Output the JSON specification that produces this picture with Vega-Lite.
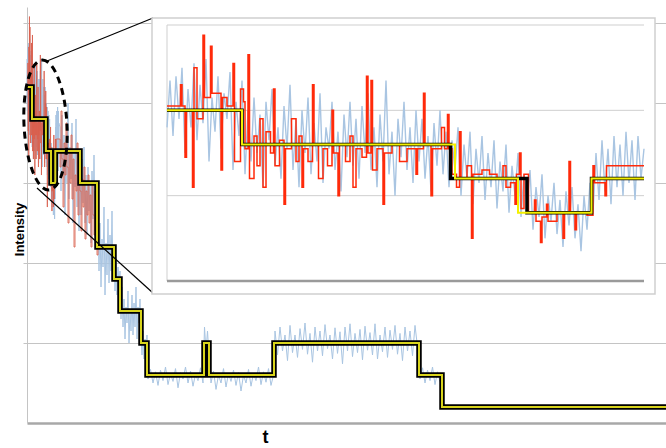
{
"$schema":"https://vega.github.io/schema/vega-lite/v6.json",
"width":639,"height":416,
"autosize":"none",
"padding":{"left":27,"top":7,"right":0,"bottom":25},
"background":"white",
"config":{"view":{"stroke":null},"font":"Liberation Sans"},
"datasets":{
"blue":[{"t":0,"v":4.0},{"t":0.2,"v":4.55},{"t":0.4,"v":3.9},{"t":0.6,"v":4.6},{"t":0.8,"v":4.1},{"t":1.0,"v":4.7},{"t":1.2,"v":3.7},{"t":1.4,"v":4.45},{"t":1.6,"v":4.0},{"t":1.8,"v":4.75},{"t":2.0,"v":3.85},{"t":2.2,"v":4.5},{"t":2.4,"v":4.05},{"t":2.6,"v":4.8},{"t":2.8,"v":3.6},{"t":3.0,"v":4.35},{"t":3.2,"v":3.95},{"t":3.4,"v":4.6},{"t":3.6,"v":3.75},{"t":3.8,"v":4.4},{"t":4.0,"v":4.1},{"t":4.2,"v":4.65},{"t":4.4,"v":3.5},{"t":4.6,"v":4.3},{"t":4.8,"v":3.9},{"t":5.0,"v":4.55},{"t":5.2,"v":3.45},{"t":5.4,"v":4.2},{"t":5.6,"v":3.6},{"t":5.8,"v":4.35},{"t":6.0,"v":3.7},{"t":6.2,"v":4.15},{"t":6.4,"v":3.3},{"t":6.6,"v":4.3},{"t":6.8,"v":3.85},{"t":7.0,"v":4.45},{"t":7.2,"v":3.55},{"t":7.4,"v":4.0},{"t":7.6,"v":3.4},{"t":7.8,"v":4.25},{"t":8.0,"v":3.75},{"t":8.2,"v":4.5},{"t":8.4,"v":3.5},{"t":8.6,"v":4.1},{"t":8.8,"v":3.3},{"t":9.0,"v":4.2},{"t":9.2,"v":3.7},{"t":9.4,"v":4.35},{"t":9.6,"v":3.45},{"t":9.8,"v":4.05},{"t":10.0,"v":3.6},{"t":10.2,"v":4.4},{"t":10.4,"v":3.35},{"t":10.6,"v":4.0},{"t":10.8,"v":3.75},{"t":11.0,"v":4.3},{"t":11.2,"v":3.5},{"t":11.4,"v":3.95},{"t":11.6,"v":3.25},{"t":11.8,"v":4.15},{"t":12.0,"v":3.65},{"t":12.2,"v":4.3},{"t":12.4,"v":3.55},{"t":12.6,"v":4.1},{"t":12.8,"v":3.4},{"t":13.0,"v":4.25},{"t":13.2,"v":3.7},{"t":13.4,"v":4.4},{"t":13.6,"v":3.5},{"t":13.8,"v":4.0},{"t":14.0,"v":3.3},{"t":14.2,"v":4.15},{"t":14.4,"v":3.6},{"t":14.6,"v":4.55},{"t":14.8,"v":3.45},{"t":15.0,"v":3.95},{"t":15.2,"v":3.2},{"t":15.4,"v":4.1},{"t":15.6,"v":3.65},{"t":15.8,"v":4.3},{"t":16.0,"v":3.5},{"t":16.2,"v":4.0},{"t":16.4,"v":3.35},{"t":16.6,"v":4.2},{"t":16.8,"v":3.6},{"t":17.0,"v":4.1},{"t":17.2,"v":3.4},{"t":17.4,"v":3.9},{"t":17.6,"v":3.25},{"t":17.8,"v":4.05},{"t":18.0,"v":3.55},{"t":18.2,"v":4.2},{"t":18.4,"v":3.45},{"t":18.6,"v":3.95},{"t":18.8,"v":3.3},{"t":19.0,"v":3.85},{"t":19.2,"v":3.5},{"t":19.4,"v":4.0},{"t":19.6,"v":3.2},{"t":19.8,"v":3.8},{"t":20.0,"v":3.4},{"t":20.2,"v":3.95},{"t":20.4,"v":3.1},{"t":20.6,"v":3.75},{"t":20.8,"v":3.35},{"t":21.0,"v":3.9},{"t":21.2,"v":3.15},{"t":21.4,"v":3.7},{"t":21.6,"v":3.3},{"t":21.8,"v":3.85},{"t":22.0,"v":3.05},{"t":22.2,"v":3.6},{"t":22.4,"v":3.25},{"t":22.6,"v":3.8},{"t":22.8,"v":3.0},{"t":23.0,"v":3.55},{"t":23.2,"v":3.2},{"t":23.4,"v":3.7},{"t":23.6,"v":2.95},{"t":23.8,"v":3.45},{"t":24.0,"v":3.1},{"t":24.2,"v":3.5},{"t":24.4,"v":2.8},{"t":24.6,"v":3.3},{"t":24.8,"v":2.95},{"t":25.0,"v":3.45},{"t":25.2,"v":2.7},{"t":25.4,"v":3.2},{"t":25.6,"v":2.9},{"t":25.8,"v":3.35},{"t":26.0,"v":2.75},{"t":26.2,"v":3.15},{"t":26.4,"v":2.6},{"t":26.6,"v":3.25},{"t":26.8,"v":2.85},{"t":27.0,"v":3.3},{"t":27.2,"v":2.7},{"t":27.4,"v":3.1},{"t":27.6,"v":2.55},{"t":27.8,"v":3.2},{"t":28.0,"v":2.8},{"t":28.2,"v":3.35},{"t":28.4,"v":3.0},{"t":28.6,"v":3.7},{"t":28.8,"v":3.15},{"t":29.0,"v":3.85},{"t":29.2,"v":3.25},{"t":29.4,"v":3.75},{"t":29.6,"v":3.1},{"t":29.8,"v":3.9},{"t":30.0,"v":3.3},{"t":30.2,"v":3.8},{"t":30.4,"v":3.2},{"t":30.6,"v":3.95},{"t":30.8,"v":3.35},{"t":31.0,"v":3.85},{"t":31.2,"v":3.15},{"t":31.4,"v":3.9},{"t":31.6,"v":3.4},{"t":31.8,"v":3.75},
{"t":33,"v":3.7},{"t":34,"v":2.9},{"t":35,"v":3.85},{"t":36,"v":3.1},{"t":37,"v":3.6},{"t":38,"v":2.6},{"t":39,"v":3.5},{"t":40,"v":3.0},{"t":41,"v":4.0},{"t":42,"v":2.8},{"t":43,"v":3.45},{"t":44,"v":3.05},{"t":45,"v":3.75},{"t":46,"v":2.5},{"t":47,"v":3.4},{"t":48,"v":2.95},{"t":49,"v":3.8},{"t":50,"v":2.7},{"t":51,"v":3.35},{"t":52,"v":2.4},{"t":53,"v":3.2},
{"t":54,"v":2.6},{"t":55,"v":3.3},{"t":56,"v":2.75},{"t":57,"v":3.45},{"t":58,"v":2.5},{"t":59,"v":3.1},{"t":60,"v":2.35},{"t":61,"v":3.2},{"t":62,"v":2.65},{"t":63,"v":3.0},{"t":64,"v":2.25},{"t":65,"v":3.15},{"t":66,"v":2.55},{"t":67,"v":3.35},{"t":68,"v":2.4},{"t":69,"v":2.95},{"t":70,"v":2.3},
{"t":71,"v":2.6},{"t":72,"v":1.9},{"t":73,"v":2.5},{"t":74,"v":1.7},{"t":75,"v":2.3},{"t":76,"v":1.95},{"t":77,"v":2.7},{"t":78,"v":1.6},{"t":79,"v":2.25},{"t":80,"v":1.85},{"t":81,"v":2.55},{"t":82,"v":1.75},{"t":83,"v":2.35},{"t":84,"v":1.9},{"t":85,"v":2.65},{"t":86,"v":1.8},{"t":87,"v":2.2},
{"t":88,"v":1.65},{"t":89,"v":2.05},{"t":90,"v":1.6},{"t":91,"v":1.95},{"t":92,"v":1.7},{"t":93,"v":1.9},
{"t":94,"v":1.3},{"t":95,"v":1.7},{"t":96,"v":1.2},{"t":97,"v":1.55},{"t":98,"v":1.05},{"t":99,"v":1.45},{"t":100,"v":1.25},{"t":101,"v":1.65},{"t":102,"v":1.0},{"t":103,"v":1.4},{"t":104,"v":1.15},{"t":105,"v":1.6},{"t":106,"v":1.1},{"t":107,"v":1.5},{"t":108,"v":1.2},{"t":109,"v":1.7},{"t":110,"v":1.05},{"t":111,"v":1.45},{"t":112,"v":1.25},{"t":113,"v":1.55},{"t":114,"v":1.1},
{"t":115,"v":0.85},{"t":116,"v":1.15},{"t":117,"v":0.8},{"t":118,"v":1.05},{"t":119,"v":0.9},{"t":120,"v":1.1},
{"t":121,"v":0.55},{"t":123.5,"v":0.67},{"t":126,"v":0.5},{"t":128.5,"v":0.64},{"t":131,"v":0.47},{"t":133.5,"v":0.66},{"t":136,"v":0.53},{"t":138.5,"v":0.7},{"t":141,"v":0.48},{"t":143.5,"v":0.62},{"t":146,"v":0.52},{"t":148.5,"v":0.68},{"t":151,"v":0.44},{"t":153.5,"v":0.63},{"t":156,"v":0.55},{"t":158.5,"v":0.7},{"t":161,"v":0.5},{"t":163.5,"v":0.65},{"t":166,"v":0.46},{"t":168.5,"v":0.61},{"t":171,"v":0.53},{"t":173.5,"v":0.69},{"t":176,"v":0.5},
{"t":177.5,"v":1.2},{"t":179,"v":0.9},{"t":180.5,"v":1.15},{"t":182,"v":0.85},
{"t":184,"v":0.5},{"t":186.5,"v":0.65},{"t":189,"v":0.42},{"t":191.5,"v":0.6},{"t":194,"v":0.5},{"t":196.5,"v":0.68},{"t":199,"v":0.45},{"t":201.5,"v":0.62},{"t":204,"v":0.52},{"t":206.5,"v":0.66},{"t":209,"v":0.47},{"t":211.5,"v":0.63},{"t":214,"v":0.4},{"t":216.5,"v":0.6},{"t":219,"v":0.5},{"t":221.5,"v":0.67},{"t":224,"v":0.46},{"t":226.5,"v":0.62},{"t":229,"v":0.53},{"t":231.5,"v":0.7},{"t":234,"v":0.48},{"t":236.5,"v":0.64},{"t":239,"v":0.51},{"t":241.5,"v":0.68},{"t":244,"v":0.47},{"t":246.5,"v":0.6},
{"t":248,"v":1.15},{"t":250.5,"v":0.85},{"t":253,"v":1.2},{"t":255.5,"v":0.9},{"t":258,"v":1.1},{"t":260.5,"v":0.78},{"t":263,"v":1.22},{"t":265.5,"v":0.88},{"t":268,"v":1.1},{"t":270.5,"v":0.82},{"t":273,"v":1.18},{"t":275.5,"v":0.92},{"t":278,"v":1.25},{"t":280.5,"v":0.86},{"t":283,"v":1.12},{"t":285.5,"v":0.76},{"t":288,"v":1.2},{"t":290.5,"v":0.9},{"t":293,"v":1.15},{"t":295.5,"v":0.84},{"t":298,"v":1.23},{"t":300.5,"v":0.93},{"t":303,"v":1.1},{"t":305.5,"v":0.8},{"t":308,"v":1.19},{"t":310.5,"v":0.87},{"t":313,"v":1.14},{"t":315.5,"v":0.74},{"t":318,"v":1.2},{"t":320.5,"v":0.9},{"t":323,"v":1.24},{"t":325.5,"v":0.83},{"t":328,"v":1.12},{"t":330.5,"v":0.88},{"t":333,"v":1.17},{"t":335.5,"v":0.79},{"t":338,"v":1.21},{"t":340.5,"v":0.91},{"t":343,"v":1.13},{"t":345.5,"v":0.85},{"t":348,"v":1.24},{"t":350.5,"v":0.8},{"t":353,"v":1.1},{"t":355.5,"v":0.89},{"t":358,"v":1.2},{"t":360.5,"v":0.82},{"t":363,"v":1.16},{"t":365.5,"v":0.92},{"t":368,"v":1.22},{"t":370.5,"v":0.86},{"t":373,"v":1.12},{"t":375.5,"v":0.78},{"t":378,"v":1.2},{"t":380.5,"v":0.9},{"t":383,"v":1.15},{"t":385.5,"v":0.84},{"t":388,"v":1.22},{"t":390.5,"v":0.95},
{"t":393,"v":0.55},{"t":395.5,"v":0.69},{"t":398,"v":0.5},{"t":400.5,"v":0.66},{"t":403,"v":0.53},{"t":405.5,"v":0.7},{"t":408,"v":0.48},{"t":410.5,"v":0.64},{"t":413,"v":0.52},{"t":415,"v":0.62}],
"red":[{"t":0,"v":4.25},{"t":0.9,"v":4.5},{"t":1.0,"v":4.25},{"t":1.2,"v":3.65},{"t":1.3,"v":4.2},{"t":1.7,"v":3.3},{"t":1.8,"v":4.7},{"t":2.0,"v":4.1},{"t":2.4,"v":5.08},{"t":2.5,"v":4.35},{"t":2.9,"v":4.95},{"t":3.0,"v":4.4},{"t":3.6,"v":3.5},{"t":3.7,"v":4.35},{"t":4.0,"v":4.25},{"t":4.4,"v":4.75},{"t":4.5,"v":3.6},{"t":4.9,"v":4.45},{"t":5.1,"v":4.3},{"t":5.2,"v":3.75},{"t":5.4,"v":4.85},{"t":5.5,"v":3.4},{"t":5.8,"v":3.9},{"t":6.0,"v":3.55},{"t":6.2,"v":4.1},{"t":6.4,"v":3.3},{"t":6.6,"v":3.95},{"t":6.9,"v":3.7},{"t":7.1,"v":4.45},{"t":7.2,"v":3.55},{"t":7.5,"v":3.85},{"t":7.8,"v":3.1},{"t":7.9,"v":3.75},{"t":8.3,"v":4.1},{"t":8.6,"v":3.6},{"t":8.8,"v":3.9},{"t":9.0,"v":3.3},{"t":9.1,"v":3.75},{"t":9.4,"v":3.6},{"t":9.7,"v":4.5},{"t":9.8,"v":3.8},{"t":10.1,"v":3.4},{"t":10.4,"v":3.75},{"t":10.7,"v":3.55},{"t":11.0,"v":4.2},{"t":11.1,"v":3.7},{"t":11.4,"v":3.2},{"t":11.5,"v":3.8},{"t":11.9,"v":3.6},{"t":12.2,"v":3.9},{"t":12.4,"v":3.3},{"t":12.6,"v":3.75},{"t":13.0,"v":3.65},{"t":13.3,"v":4.6},{"t":13.4,"v":3.7},{"t":13.6,"v":4.55},{"t":13.7,"v":3.5},{"t":14.0,"v":3.75},{"t":14.4,"v":3.1},{"t":14.5,"v":3.7},{"t":15.0,"v":3.8},{"t":15.5,"v":3.6},{"t":16.0,"v":3.75},{"t":16.6,"v":3.45},{"t":16.7,"v":3.75},{"t":17.1,"v":4.4},{"t":17.2,"v":3.8},{"t":17.6,"v":3.2},{"t":17.7,"v":3.75},{"t":18.3,"v":4.0},{"t":18.5,"v":3.75},{"t":18.7,"v":4.15},{"t":18.8,"v":3.75},{"t":19.0,"v":3.45},{"t":19.3,"v":3.3},{"t":19.5,"v":3.95},{"t":19.6,"v":3.4},{"t":20.0,"v":3.55},{"t":20.3,"v":2.7},{"t":20.4,"v":3.45},{"t":21.0,"v":3.5},{"t":21.5,"v":3.45},{"t":22.0,"v":3.4},{"t":22.4,"v":3.55},{"t":22.6,"v":3.3},{"t":22.9,"v":3.35},{"t":23.2,"v":3.1},{"t":23.3,"v":3.45},{"t":23.5,"v":3.7},{"t":23.6,"v":3.05},{"t":23.8,"v":3.45},{"t":24.1,"v":3.0},{"t":24.5,"v":3.15},{"t":24.6,"v":2.9},{"t":24.9,"v":2.65},{"t":25.0,"v":2.95},{"t":25.3,"v":3.1},{"t":25.4,"v":2.9},{"t":26.0,"v":3.0},{"t":26.4,"v":2.7},{"t":26.5,"v":3.0},{"t":26.8,"v":3.6},{"t":26.9,"v":3.0},{"t":27.2,"v":2.8},{"t":27.3,"v":3.0},{"t":28.0,"v":2.97},{"t":28.4,"v":3.55},{"t":28.5,"v":3.35},{"t":29.2,"v":3.2},{"t":29.3,"v":3.55},{"t":31.8,"v":3.55},
{"t":32,"v":3.55},{"t":33,"v":3.2},{"t":34,"v":3.9},{"t":35,"v":3.3},{"t":36,"v":2.7},{"t":37,"v":3.5},{"t":38,"v":3.1},{"t":39,"v":3.75},{"t":40,"v":3.2},{"t":41,"v":2.5},{"t":42,"v":3.4},{"t":43,"v":3.0},{"t":44,"v":3.6},{"t":45,"v":2.8},{"t":46,"v":3.3},{"t":47,"v":2.2},{"t":48,"v":3.1},{"t":49,"v":2.9},{"t":50,"v":3.5},{"t":51,"v":2.6},{"t":52,"v":3.2},{"t":53,"v":2.9},{"t":54,"v":2.4},{"t":55,"v":3.05},{"t":56,"v":2.7},{"t":57,"v":3.2},{"t":58,"v":2.3},{"t":59,"v":2.9},{"t":60,"v":2.6},{"t":61,"v":3.1},{"t":62,"v":2.5},{"t":63,"v":2.85},{"t":64,"v":2.2},{"t":65,"v":3.0},{"t":66,"v":2.6},{"t":67,"v":2.35},{"t":68,"v":2.9},{"t":69,"v":2.4},{"t":70,"v":2.1},{"t":71,"v":2.5}],
"step":[{"t":0,"v":4.2},{"t":5,"v":3.8},{"t":18.9,"v":3.4},{"t":24,"v":3.0},{"t":28.3,"v":3.4},{"t":53,"v":3.0},{"t":70,"v":2.2},{"t":87,"v":1.8},{"t":93,"v":1.4},{"t":114,"v":1.0},{"t":120,"v":0.6},{"t":177,"v":1.0},{"t":182,"v":0.6},{"t":247,"v":1.0},{"t":392,"v":0.6},{"t":415,"v":0.2},{"t":645,"v":0.2}]
},
"layer":[
{"layer":[
{"data":{"name":"blue"},"mark":{"type":"line","color":"#a9c5e2","strokeWidth":1},
 "encoding":{
  "x":{"field":"t","type":"quantitative","scale":{"domain":[0,639],"nice":false,"zero":false},
   "axis":{"title":"t","titleFontSize":18,"titleFontWeight":"bold","titleColor":"black","titleX":238,"titleY":19,"titleBaseline":"alphabetic","domainColor":"#a8a8a8","domainWidth":2.5,"ticks":false,"labels":false,"grid":false}},
  "y":{"field":"v","type":"quantitative","scale":{"domain":[0,5.2],"nice":false,"zero":false},
   "axis":{"title":"Intensity","titleFontSize":13,"titleFontWeight":"bold","titleColor":"black","titleX":-4,"titleY":222,"titleAngle":270,"titleBaseline":"alphabetic","titleAlign":"center","grid":true,"gridColor":"#c4c4c4","domainColor":"#c4c4c4","tickColor":"#c4c4c4","tickSize":4,"labels":false,"values":[1,2,3,4,5]}}}},
{"data":{"name":"red"},"mark":{"type":"line","color":"#d9604f","opacity":0.85,"strokeWidth":1,"interpolate":"step-after"},
 "encoding":{"x":{"field":"t","type":"quantitative"},"y":{"field":"v","type":"quantitative"}}},
{"data":{"name":"step"},"mark":{"type":"line","color":"black","strokeWidth":5.5,"interpolate":"step-after","strokeJoin":"miter","clip":true},
 "encoding":{"x":{"field":"t","type":"quantitative"},"y":{"field":"v","type":"quantitative"}}},
{"data":{"name":"step"},"mark":{"type":"line","color":"#d8d41c","strokeWidth":2,"interpolate":"step-after","strokeJoin":"miter","clip":true},
 "encoding":{"x":{"field":"t","type":"quantitative"},"y":{"field":"v","type":"quantitative"}}},
{"data":{"values":[{"t":18.5,"v":3.725}]},"mark":{"type":"point","shape":"M0,-1A0.33,1,0,1,1,0,1A0.33,1,0,1,1,0,-1Z","size":16900,"filled":false,"stroke":"black","strokeWidth":3,"strokeDash":[7,5],"angle":-3,"opacity":1},
 "encoding":{"x":{"field":"t","type":"quantitative"},"y":{"field":"v","type":"quantitative"}}},
{"data":{"values":[{"t":20,"v":4.525,"t2":126,"v2":5.0625},{"t":10,"v":2.9375,"t2":126,"v2":1.625}]},"mark":{"type":"rule","color":"black","strokeWidth":1.2},
 "encoding":{"x":{"field":"t","type":"quantitative"},"y":{"field":"v","type":"quantitative"},"x2":{"field":"t2"},"y2":{"field":"v2"}}},
{"data":{"values":[{"t":125,"t2":628,"v":1.6125,"v2":5.0625}]},"mark":{"type":"rect","fill":"white","stroke":"#cfcfcf","strokeWidth":1.5},
 "encoding":{"x":{"field":"t","type":"quantitative"},"y":{"field":"v","type":"quantitative"},"x2":{"field":"t2"},"y2":{"field":"v2"}}}
]},
{"layer":[
{"data":{"values":[{"t":0,"t2":31.8,"v":3.2},{"t":0,"t2":31.8,"v":4.2},{"t":0,"t2":31.8,"v":5.2}]},"mark":{"type":"rule","color":"#cfcfcf","strokeWidth":1},
 "encoding":{"x":{"field":"t","type":"quantitative","axis":null,"scale":{"domain":[0,31.8],"range":[140,617],"nice":false,"zero":false}},"x2":{"field":"t2"},
  "y":{"field":"v","type":"quantitative","axis":null,"scale":{"domain":[2.2,5.2],"range":[274,18],"nice":false,"zero":false}}}},
{"data":{"values":[{"t":0,"v":2.2,"v2":5.2}]},"mark":{"type":"rule","color":"#cfcfcf","strokeWidth":1},
 "encoding":{"x":{"field":"t","type":"quantitative","axis":null},"y":{"field":"v","type":"quantitative","axis":null},"y2":{"field":"v2"}}},
{"data":{"name":"blue"},"transform":[{"filter":"datum.t <= 31.8"}],"mark":{"type":"line","color":"#a9c5e2","strokeWidth":1.4},
 "encoding":{"x":{"field":"t","type":"quantitative","axis":null},"y":{"field":"v","type":"quantitative","axis":null}}},
{"data":{"name":"red"},"transform":[{"filter":"datum.t <= 31.8"}],"mark":{"type":"line","color":"#ff2a0a","strokeWidth":1.5,"interpolate":"step-after"},
 "encoding":{"x":{"field":"t","type":"quantitative","axis":null},"y":{"field":"v","type":"quantitative","axis":null}}},
{"data":{"values":[{"t":0,"v":4.2},{"t":5,"v":3.8},{"t":18.9,"v":3.4},{"t":24,"v":3.0},{"t":28.3,"v":3.4},{"t":31.8,"v":3.4}]},"mark":{"type":"line","color":"black","strokeWidth":3.5,"interpolate":"step-after","strokeJoin":"miter"},
 "encoding":{"x":{"field":"t","type":"quantitative","axis":null},"y":{"field":"v","type":"quantitative","axis":null}}},
{"data":{"values":[{"t":0,"v":4.2},{"t":5,"v":3.8},{"t":19.2,"v":3.4},{"t":23.4,"v":3.0},{"t":28.3,"v":3.4},{"t":31.8,"v":3.4}]},"mark":{"type":"line","color":"#f4f000","strokeWidth":2,"interpolate":"step-after","strokeJoin":"miter"},
 "encoding":{"x":{"field":"t","type":"quantitative","axis":null},"y":{"field":"v","type":"quantitative","axis":null}}},
{"data":{"values":[{"t":0,"t2":31.8,"v":2.2}]},"mark":{"type":"rule","color":"#9a9a9a","strokeWidth":2.5},
 "encoding":{"x":{"field":"t","type":"quantitative","axis":null},"x2":{"field":"t2"},"y":{"field":"v","type":"quantitative","axis":null}}}
]}
],
"resolve":{"scale":{"x":"independent","y":"independent"}}
}
